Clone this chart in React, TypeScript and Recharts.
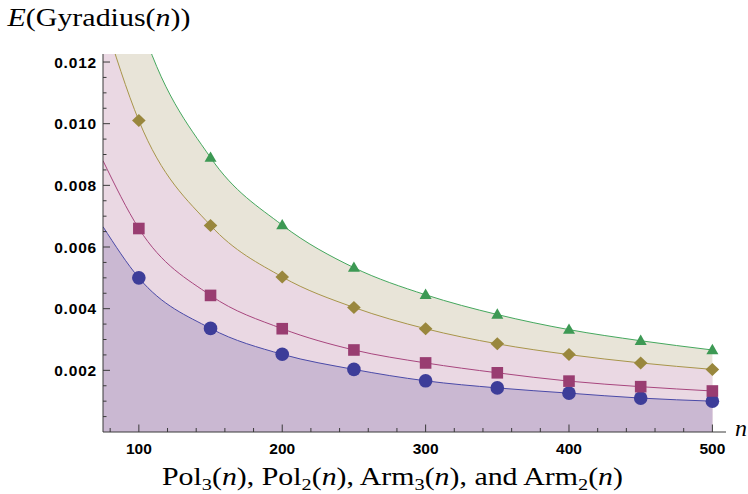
import React from 'react';
import { Area, ComposedChart, Line, XAxis, YAxis } from 'recharts';

const nValues = [75, 100, 150, 200, 250, 300, 350, 400, 450, 500];
const pol3 = [0.00666, 0.005, 0.00336, 0.00252, 0.00203, 0.00166, 0.00143, 0.00126, 0.0011, 0.001];
const pol2 = [0.0088, 0.0066, 0.00443, 0.00335, 0.00266, 0.00224, 0.00192, 0.00165, 0.00147, 0.00133];
const arm3 = [0.0135, 0.0101, 0.0067, 0.00503, 0.00404, 0.00335, 0.00286, 0.00251, 0.00224, 0.00203];
const arm2 = [0.0179, 0.01345, 0.0089, 0.00671, 0.00533, 0.00445, 0.00381, 0.00332, 0.00296, 0.00266];

const xTicks = [80, 100, 120, 140, 160, 180, 200, 220, 240, 260, 280, 300, 320, 340, 360, 380, 400, 420, 440, 460, 480, 500];
const yTicks = [0.0005, 0.001, 0.0015, 0.002, 0.0025, 0.003, 0.0035, 0.004, 0.0045, 0.005, 0.0055, 0.006, 0.0065, 0.007, 0.0075, 0.008, 0.0085, 0.009, 0.0095, 0.01, 0.0105, 0.011, 0.0115, 0.012];
const yLabels = ['0.002', '0.004', '0.006', '0.008', '0.010', '0.012'];

const X_DOMAIN = [75, 509.5];
const Y_MAX = 0.01226;

const data = nValues.map((n, i) => ({ n, pol3: pol3[i], pol2: pol2[i], arm3: arm3[i], arm2: arm2[i] }));

const BLUE = '#3d3d99';
const MAGENTA = '#993d71';
const OLIVE = '#99873d';
const GREEN = '#3d9954';
const AXIS = '#3a3a3a';
const tickFont = '"Liberation Sans", Arial, sans-serif';
const serif = '"Liberation Serif", "Times New Roman", serif';

function hidden(props: any) {
  return props.payload.n < 100 || props.value > Y_MAX || props.cx == null;
}

const circleDot = (props: any) =>
  hidden(props) ? <g key={props.key} /> : <circle key={props.key} cx={props.cx} cy={props.cy} r={6.8} fill={BLUE} />;
const squareDot = (props: any) =>
  hidden(props) ? <g key={props.key} /> : (
    <rect key={props.key} x={props.cx - 5.8} y={props.cy - 5.8} width={11.6} height={11.6} fill={MAGENTA} />
  );
const diamondDot = (props: any) =>
  hidden(props) ? <g key={props.key} /> : (
    <polygon
      key={props.key}
      points={`${props.cx},${props.cy - 6.5} ${props.cx + 6.8},${props.cy} ${props.cx},${props.cy + 6.5} ${props.cx - 6.8},${props.cy}`}
      fill={OLIVE}
    />
  );
const triangleDot = (props: any) =>
  hidden(props) ? <g key={props.key} /> : (
    <polygon
      key={props.key}
      points={`${props.cx},${props.cy - 6.2} ${props.cx + 6},${props.cy + 4.2} ${props.cx - 6},${props.cy + 4.2}`}
      fill={GREEN}
    />
  );

function XTick(props: any) {
  const { x, y, payload } = props;
  const major = payload.value % 100 === 0;
  return (
    <g>
      <line x1={x} x2={x} y1={y} y2={y - (major ? 7.5 : 4)} stroke={AXIS} strokeWidth={1} />
      {major && (
        <text x={x} y={y + 21.5} textAnchor="middle" fontFamily={tickFont} fontWeight="bold" fontSize={15.5} fill="#000">
          {payload.value}
        </text>
      )}
    </g>
  );
}

function YTick(props: any) {
  const { x, y, payload } = props;
  const label = yLabels.find((l) => Math.abs(parseFloat(l) - payload.value) < 1e-9);
  return (
    <g>
      <line x1={x} x2={x + (label ? 7 : 3.5)} y1={y} y2={y} stroke={AXIS} strokeWidth={1} />
      {label && (
        <text
          x={x - 6}
          y={y + 5.6}
          textAnchor="end"
          fontFamily={tickFont}
          fontWeight="bold"
          fontSize={15.5}
          letterSpacing={0.8}
          fill="#000"
        >
          {label}
        </text>
      )}
    </g>
  );
}

export default function App() {
  return (
    <div style={{ position: 'absolute', left: 0, top: 0, width: 748, height: 494, background: '#fff' }}>
      <ComposedChart width={748} height={494} data={data} margin={{ top: 54, right: 22, bottom: 0, left: 0 }}>
        <XAxis
          dataKey="n"
          type="number"
          domain={X_DOMAIN}
          allowDataOverflow
          ticks={xTicks}
          interval={0}
          height={62}
          tickSize={0}
          tickMargin={0}
          tickLine={false}
          tick={XTick}
          axisLine={{ stroke: AXIS, strokeWidth: 1 }}
        />
        <YAxis
          type="number"
          domain={[0, Y_MAX]}
          allowDataOverflow
          ticks={yTicks}
          interval={0}
          width={103}
          tickSize={0}
          tickMargin={0}
          tickLine={false}
          tick={YTick}
          axisLine={{ stroke: AXIS, strokeWidth: 1 }}
        />
        <Area dataKey="arm2" type="monotone" stroke="none" fill="#e8e4d8" fillOpacity={1} isAnimationActive={false} />
        <Area dataKey="arm3" type="monotone" stroke="none" fill="#ead8e3" fillOpacity={1} isAnimationActive={false} />
        <Area dataKey="pol2" type="monotone" stroke="none" fill="#ead8e3" fillOpacity={1} isAnimationActive={false} />
        <Area dataKey="pol3" type="monotone" stroke="none" fill="#cab8d2" fillOpacity={1} isAnimationActive={false} />
        <Line dataKey="pol3" type="monotone" stroke="#4a4aa8" strokeWidth={1} dot={circleDot} activeDot={false} isAnimationActive={false} />
        <Line dataKey="pol2" type="monotone" stroke="#a8467e" strokeWidth={1} dot={squareDot} activeDot={false} isAnimationActive={false} />
        <Line dataKey="arm3" type="monotone" stroke="#a8954a" strokeWidth={1} dot={diamondDot} activeDot={false} isAnimationActive={false} />
        <Line dataKey="arm2" type="monotone" stroke="#45a85e" strokeWidth={1} dot={triangleDot} activeDot={false} isAnimationActive={false} />
      </ComposedChart>
      <svg width={748} height={494} style={{ position: 'absolute', left: 0, top: 0, pointerEvents: 'none' }}>
        <text x={7.5} y={26} fontFamily={serif} fontSize={26} textLength={183} lengthAdjust="spacingAndGlyphs" fill="#000">
          <tspan fontStyle="italic">E</tspan>
          <tspan>(Gyradius(</tspan>
          <tspan fontStyle="italic">n</tspan>
          <tspan>))</tspan>
        </text>
        <text x={735} y={435.5} fontFamily={serif} fontSize={24} fontStyle="italic" fill="#000">
          n
        </text>
        <text x={162} y={485} fontFamily={serif} fontSize={25} textLength={461} lengthAdjust="spacingAndGlyphs" fill="#000">
          <tspan>Pol</tspan>
          <tspan dy={5} fontSize={17}>3</tspan>
          <tspan dy={-5}>(</tspan>
          <tspan fontStyle="italic">n</tspan>
          <tspan>), Pol</tspan>
          <tspan dy={5} fontSize={17}>2</tspan>
          <tspan dy={-5}>(</tspan>
          <tspan fontStyle="italic">n</tspan>
          <tspan>), Arm</tspan>
          <tspan dy={5} fontSize={17}>3</tspan>
          <tspan dy={-5}>(</tspan>
          <tspan fontStyle="italic">n</tspan>
          <tspan>), and Arm</tspan>
          <tspan dy={5} fontSize={17}>2</tspan>
          <tspan dy={-5}>(</tspan>
          <tspan fontStyle="italic">n</tspan>
          <tspan>)</tspan>
        </text>
      </svg>
    </div>
  );
}
